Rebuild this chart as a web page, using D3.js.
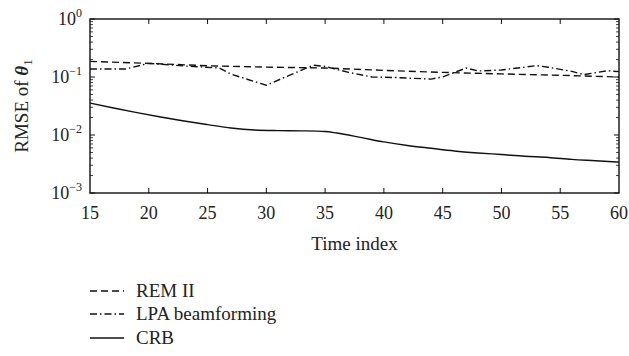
<!DOCTYPE html>
<html>
<head>
<meta charset="utf-8">
<script src="https://cdn.jsdelivr.net/npm/d3@7"></script>
<style>
  body { margin: 0; background: #fff; }
  text { font-family: "Liberation Serif", "DejaVu Serif", serif; fill: #222; }
</style>
</head>
<body>
<div class="chart"></div>
<script>
// time index / RMSE readings
var remTime = [15, 20, 25, 30, 35, 40, 45, 50, 55, 60];
var remValues = [0.186, 0.172, 0.156, 0.148, 0.143, 0.130, 0.120, 0.113, 0.107, 0.100];

var lpaTime = [15, 18, 20, 23, 26, 27, 30, 32, 34, 35, 37, 39, 41, 44, 45, 47, 48, 50, 53, 54, 56, 57, 59, 60];
var lpaValues = [0.137, 0.137, 0.172, 0.155, 0.143, 0.112, 0.072, 0.108, 0.160, 0.152, 0.120, 0.100, 0.098, 0.092, 0.100, 0.143, 0.127, 0.132, 0.157, 0.147, 0.125, 0.110, 0.128, 0.124];

var crbTime = [15, 17, 19, 21, 23, 25, 27, 29, 31, 33, 35, 36, 38, 40, 42, 44, 46, 48, 50, 52, 54, 56, 58, 60];
var crbValues = [0.0356, 0.0292, 0.0243, 0.0204, 0.0174, 0.0151, 0.0132, 0.0122, 0.0119, 0.0118, 0.0115, 0.0108, 0.0091, 0.0076, 0.0066, 0.0059, 0.0053, 0.0049, 0.0046, 0.0043, 0.0041, 0.0038, 0.0036, 0.0034];

var xTicks = [15, 20, 25, 30, 35, 40, 45, 50, 55, 60];
var yTicks = [1, 0.1, 0.01, 0.001];
var yTickExp = ["0", "\u22121", "\u22122", "\u22123"];

var seriesNames = ["REM II", "LPA beamforming", "CRB"];
var seriesDash = ["7,4", "7,3,1.5,3", null];

const margin = {top: 19, left: 90};
const width = 529, height = 174;

var svg = d3.select(".chart").append("svg")
    .attr("width", 629)
    .attr("height", 356);

var g = svg.append("g")
    .attr("transform", "translate(" + margin.left + "," + margin.top + ")");

const xScale = d3.scaleLinear().domain([15, 60]).range([0, width]);
const yScale = d3.scaleLog().domain([0.001, 1]).range([height, 0]);

// minor log ticks
var minor = [];
[0.001, 0.01, 0.1].forEach(d => {
    for (var k = 2; k <= 9; k++) minor.push(d * k);
});

// frame
g.append("rect")
    .attr("width", width).attr("height", height)
    .attr("fill", "none").attr("stroke", "#111").attr("stroke-width", 1.4);

// x ticks (bottom + top, inward)
g.selectAll(".xt").data(xTicks.slice(1, -1)).enter().append("line")
    .attr("x1", d => xScale(d)).attr("x2", d => xScale(d))
    .attr("y1", height).attr("y2", height - 5)
    .attr("stroke", "#111");
g.selectAll(".xtt").data(xTicks.slice(1, -1)).enter().append("line")
    .attr("x1", d => xScale(d)).attr("x2", d => xScale(d))
    .attr("y1", 0).attr("y2", 5)
    .attr("stroke", "#111");

// y ticks (left + right)
[0, width].forEach(x0 => {
    var dir = x0 === 0 ? 1 : -1;
    g.selectAll(null).data(yTicks).enter().append("line")
        .attr("x1", x0).attr("x2", x0 + dir * 5)
        .attr("y1", d => yScale(d)).attr("y2", d => yScale(d))
        .attr("stroke", "#111");
    g.selectAll(null).data(minor).enter().append("line")
        .attr("x1", x0).attr("x2", x0 + dir * 3)
        .attr("y1", d => yScale(d)).attr("y2", d => yScale(d))
        .attr("stroke", "#111").attr("stroke-width", 0.8);
});

// x tick labels
g.selectAll(".xl").data(xTicks).enter().append("text")
    .attr("x", d => xScale(d))
    .attr("y", height + 26)
    .attr("text-anchor", "middle")
    .attr("font-size", 18)
    .text(d => d);

// y tick labels
var yl = g.selectAll(".yl").data(yTicks).enter().append("text")
    .attr("x", -8)
    .attr("y", d => yScale(d) + 6)
    .attr("text-anchor", "end")
    .attr("font-size", 18);
yl.append("tspan").text("10");
yl.append("tspan").attr("dy", -8).attr("font-size", 12).text((d, i) => yTickExp[i]);

// axis titles
g.append("text")
    .attr("x", width / 2)
    .attr("y", height + 57)
    .attr("text-anchor", "middle")
    .attr("font-size", 19)
    .text("Time index");

var yt = svg.append("text")
    .attr("transform", "translate(28," + (margin.top + height / 2) + ") rotate(-90)")
    .attr("text-anchor", "middle")
    .attr("font-size", 19);
yt.append("tspan").text("RMSE of ");
yt.append("tspan").attr("font-weight", "bold").attr("font-style", "italic").text("\u03b8");
yt.append("tspan").attr("dy", 4).attr("font-size", 13).text("1");

// lines
var line = d3.line()
    .x(d => xScale(d[0]))
    .y(d => yScale(d[1]));

var seriesData = [
    d3.zip(remTime, remValues),
    d3.zip(lpaTime, lpaValues),
    d3.zip(crbTime, crbValues)
];

seriesData.forEach((s, i) => {
    g.append("path")
        .datum(s)
        .attr("fill", "none")
        .attr("stroke", "#111")
        .attr("stroke-width", 1.4)
        .attr("stroke-dasharray", seriesDash[i])
        .attr("d", i === 2 ? line.curve(d3.curveMonotoneX)(s) : line.curve(d3.curveLinear)(s));
});

// legend
var legend = svg.append("g").attr("transform", "translate(90,291)");
var rows = [0, 23, 47];
legend.selectAll("line").data(seriesNames).enter().append("line")
    .attr("x1", 0).attr("x2", 34)
    .attr("y1", (d, i) => rows[i]).attr("y2", (d, i) => rows[i])
    .attr("stroke", "#111").attr("stroke-width", 1.4)
    .attr("stroke-dasharray", (d, i) => seriesDash[i]);
legend.selectAll("text").data(seriesNames).enter().append("text")
    .attr("x", 46)
    .attr("y", (d, i) => rows[i] + 6)
    .attr("font-size", 19)
    .text(d => d);
</script>
</body>
</html>
